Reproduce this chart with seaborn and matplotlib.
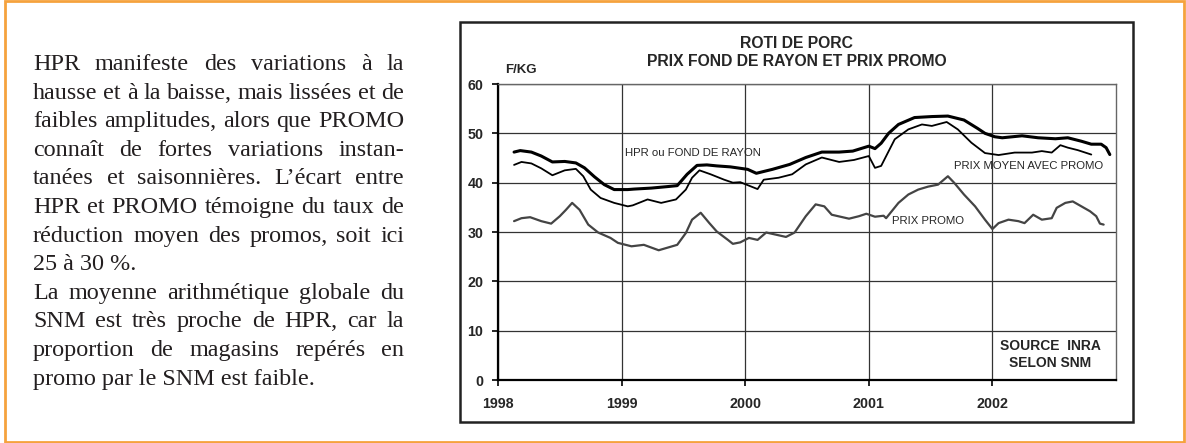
import numpy as np
import pandas as pd
import seaborn as sns
import matplotlib.pyplot as plt
from matplotlib.patches import Rectangle

sns.set_style("white")
plt.rcParams['font.family'] = ['Liberation Sans', 'DejaVu Sans']

# HPR ou fond de rayon (trait épais)
hpr_x = [1998.13, 1998.18, 1998.27, 1998.35, 1998.44, 1998.54, 1998.63, 1998.70, 1998.78, 1998.86,
         1998.94, 1999.05, 1999.10, 1999.24, 1999.37, 1999.45, 1999.53, 1999.61, 1999.69, 1999.77,
         1999.88, 2000.02, 2000.09, 2000.22, 2000.36, 2000.49, 2000.62, 2000.76, 2000.87, 2001.00,
         2001.05, 2001.10, 2001.16, 2001.24, 2001.37, 2001.51, 2001.64, 2001.77, 2001.88, 2001.94,
         2002.02, 2002.08, 2002.24, 2002.37, 2002.51, 2002.61, 2002.72, 2002.80, 2002.88, 2002.92,
         2002.95]
hpr_y = [46.2, 46.5, 46.2, 45.4, 44.2, 44.3, 44.0, 43.0, 41.2, 39.6,
         38.6, 38.6, 38.7, 38.9, 39.2, 39.4, 41.7, 43.5, 43.6, 43.4,
         43.2, 42.7, 41.9, 42.7, 43.7, 45.1, 46.2, 46.2, 46.4, 47.4,
         46.9, 48.0, 50.0, 51.8, 53.2, 53.4, 53.5, 52.7, 51.0, 50.0,
         49.3, 49.1, 49.5, 49.1, 48.9, 49.1, 48.4, 47.8, 47.8, 47.1,
         45.7]

# prix moyen avec promo (trait fin)
pmp_x = [1998.13, 1998.19, 1998.27, 1998.35, 1998.44, 1998.54, 1998.63, 1998.69, 1998.75, 1998.83,
         1998.94, 1999.05, 1999.09, 1999.21, 1999.32, 1999.44, 1999.52, 1999.57, 1999.63, 1999.72,
         1999.83, 1999.90, 1999.96, 2000.03, 2000.10, 2000.15, 2000.27, 2000.38, 2000.49, 2000.62,
         2000.76, 2000.88, 2001.00, 2001.05, 2001.10, 2001.21, 2001.32, 2001.43, 2001.51, 2001.63,
         2001.72, 2001.83, 2001.94, 2002.05, 2002.18, 2002.32, 2002.40, 2002.48, 2002.55, 2002.61,
         2002.69, 2002.80]
pmp_y = [43.6, 44.2, 43.9, 42.9, 41.5, 42.5, 42.8, 41.3, 38.6, 36.9,
         35.9, 35.2, 35.4, 36.6, 35.9, 36.6, 38.6, 41.0, 42.5, 41.7,
         40.6, 40.0, 40.1, 39.4, 38.7, 40.6, 41.0, 41.7, 43.7, 45.1,
         44.2, 44.6, 45.4, 43.0, 43.4, 48.8, 50.8, 51.8, 51.5, 52.3,
         50.8, 48.1, 46.0, 45.6, 46.1, 46.1, 46.4, 46.1, 47.6, 47.1,
         46.6, 45.7]

# prix promo (gris)
promo_x = [1998.13, 1998.19, 1998.26, 1998.35, 1998.43, 1998.50, 1998.55, 1998.60, 1998.66, 1998.73,
           1998.81, 1998.91, 1998.97, 1999.08, 1999.18, 1999.30, 1999.45, 1999.52, 1999.57, 1999.64,
           1999.71, 1999.77, 1999.86, 1999.90, 1999.96, 2000.03, 2000.10, 2000.17, 2000.33, 2000.40,
           2000.49, 2000.57, 2000.64, 2000.70, 2000.84, 2000.92, 2000.98, 2001.05, 2001.12, 2001.14,
           2001.24, 2001.32, 2001.40, 2001.48, 2001.56, 2001.64, 2001.69, 2001.77, 2001.86, 2001.94,
           2002.00, 2002.05, 2002.13, 2002.21, 2002.26, 2002.33, 2002.40, 2002.48, 2002.52, 2002.59,
           2002.65, 2002.72, 2002.79, 2002.84, 2002.87, 2002.90]
promo_y = [32.2, 32.8, 33.0, 32.2, 31.7, 33.2, 34.5, 35.9, 34.5, 31.5,
           29.9, 28.8, 27.8, 27.1, 27.4, 26.3, 27.4, 29.8, 32.5, 33.9,
           31.8, 30.1, 28.4, 27.6, 27.9, 28.8, 28.4, 29.9, 29.0, 29.9,
           33.2, 35.6, 35.2, 33.5, 32.7, 33.2, 33.7, 33.1, 33.3, 32.8,
           35.9, 37.6, 38.6, 39.2, 39.6, 41.3, 40.0, 37.6, 35.2, 32.5,
           30.6, 31.8, 32.5, 32.2, 31.8, 33.5, 32.5, 32.8, 34.9, 35.9,
           36.2, 35.2, 34.2, 33.2, 31.7, 31.5]

years = [1998, 1999, 2000, 2001, 2002]
y_ticks = [0, 10, 20, 30, 40, 50, 60]

texte = [
    "HPR manifeste des variations à la",
    "hausse et à la baisse, mais lissées et de",
    "faibles amplitudes, alors que PROMO",
    "connaît de fortes variations instan-",
    "tanées et saisonnières. L’écart entre",
    "HPR et PROMO témoigne du taux de",
    "réduction moyen des promos, soit ici",
    "25 à 30 %.",
    "La moyenne arithmétique globale du",
    "SNM est très proche de HPR, car la",
    "proportion de magasins repérés en",
    "promo par le SNM est faible.",
]
fin_paragraphe = [7, 11]

fig = plt.figure(figsize=(11.86, 4.43), dpi=100)
W, H = 1186, 443

# cadres
fig.patches.append(Rectangle((5 / W, 1 / H), 1179 / W, 441 / H, transform=fig.transFigure,
                             fill=False, ec='#F5A23D', lw=2))
fig.patches.append(Rectangle((460 / W, 1 - 422 / H), 673 / W, 400 / H, transform=fig.transFigure,
                             fill=False, ec='#222222', lw=1.8))

ax = fig.add_axes([498 / W, 1 - 380 / H, 618 / W, 296 / H])
sns.lineplot(x=promo_x, y=promo_y, ax=ax, color='#444444', linewidth=1.6, sort=False)
sns.lineplot(x=pmp_x, y=pmp_y, ax=ax, color='black', linewidth=1.3, sort=False)
sns.lineplot(x=hpr_x, y=hpr_y, ax=ax, color='black', linewidth=2.2, sort=False)

ax.set_xlim(1998, 2003)
ax.set_ylim(0, 60)
ax.set_xticks(years)
ax.set_yticks(y_ticks)
ax.grid(True, color='#333333', lw=0.9)
ax.set_axisbelow(True)
for s in ['left', 'bottom']:
    ax.spines[s].set_color('black')
    ax.spines[s].set_linewidth(1.6)
for s in ['top', 'right']:
    ax.spines[s].set_color('#666666')
    ax.spines[s].set_linewidth(1)
ax.tick_params(axis='both', direction='out', length=4, width=1.2, color='black',
               labelsize=10.3, bottom=True, left=True)
ax.tick_params(axis='x', pad=8.5)
ax.tick_params(axis='y', pad=6.5)
for lbl in ax.get_xticklabels() + ax.get_yticklabels():
    lbl.set_fontweight('bold')

fig.text(797 / W, 1 - 44 / H, "ROTI DE PORC", ha='center', va='center', fontsize=11.3, fontweight='bold')
fig.text(797 / W, 1 - 62 / H, "PRIX FOND DE RAYON ET PRIX PROMO", ha='center', va='center',
         fontsize=11.3, fontweight='bold')
fig.text(505 / W, 1 - 70 / H, "F/KG", ha='left', va='center', fontsize=9.5, fontweight='bold')

ax.text(1999.03, 46.0, "HPR ou FOND DE RAYON", ha='left', va='center', fontsize=8.2)
ax.text(2001.69, 43.4, "PRIX MOYEN AVEC PROMO", ha='left', va='center', fontsize=8.2)
ax.text(2001.19, 32.2, "PRIX PROMO", ha='left', va='center', fontsize=8.2)
ax.text(2002.47, 5.1, "SOURCE  INRA\nSELON SNM", ha='center', va='center', fontsize=10,
        fontweight='bold', linespacing=1.3)

# texte justifié à gauche
r = fig.canvas.get_renderer()
x0, x1 = 33, 404
for i, line in enumerate(texte):
    yb = 1 - (70 + 28.6 * i) / H
    kw = dict(fontsize=17.4, family='Liberation Serif', color='#231f20', va='baseline', ha='left')
    if i in fin_paragraphe:
        fig.text(x0 / W, yb, line, **kw)
        continue
    words = line.split()
    ts = [fig.text(0, yb, w, **kw) for w in words]
    widths = [t.get_window_extent(r).width for t in ts]
    gap = (x1 - x0 - sum(widths)) / (len(words) - 1)
    x = x0
    for t, w in zip(ts, widths):
        t.set_x(x / W)
        x += w + gap

fig.savefig('out.png', dpi=100)
